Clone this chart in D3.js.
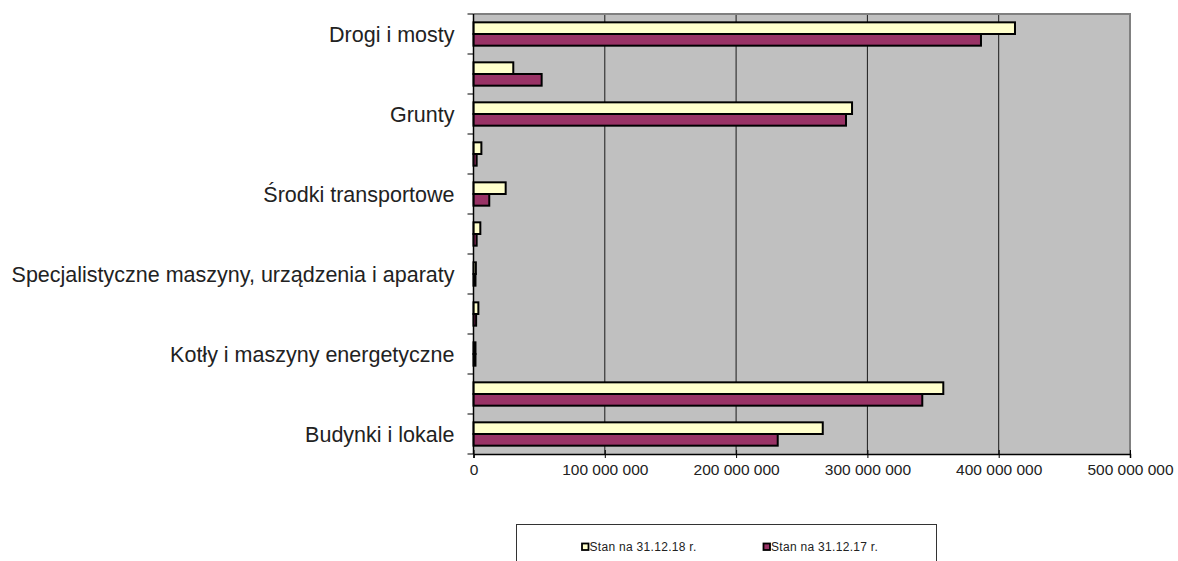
<!DOCTYPE html>
<html>
<head>
<meta charset="utf-8">
<script src="https://cdn.jsdelivr.net/npm/d3@7"></script>
<style>
  body { margin: 0; background: #fff; }
  text { font-family: Arial, "Liberation Sans", sans-serif; }
</style>
</head>
<body>
<div id="chart"></div>
<script>
// categories top to bottom, only every other label is shown in the original
let categories = [
  "Drogi i mosty", "", "Grunty", "", "Środki transportowe", "",
  "Specjalistyczne maszyny, urządzenia i aparaty", "", "Kotły i maszyny energetyczne", "",
  "Budynki i lokale"
];
let seriesNames = ["Stan na 31.12.18 r.", "Stan na 31.12.17 r."];
let stan18 = [412.4e6, 30.3e6, 288.3e6, 6.0e6, 24.5e6, 5.2e6, 1.8e6, 3.7e6, 1.5e6, 357.8e6, 266.0e6];
let stan17 = [386.5e6, 51.9e6, 283.7e6, 2.4e6, 12.0e6, 2.4e6, 1.5e6, 2.0e6, 1.5e6, 341.8e6, 231.7e6];
let xTicks = [0, 100e6, 200e6, 300e6, 400e6, 500e6];
let colors = ["#ffffcc", "#993366"];

let width = 1178, height = 561;
let margin = { top: 14, right: 48, bottom: 107, left: 473.5 };
let plotW = width - margin.left - margin.right,
  plotH = height - margin.top - margin.bottom;

let svg = d3.select("#chart").append("svg")
  .attr("width", width)
  .attr("height", height);

let g = svg.append("g")
  .attr("transform", "translate(" + margin.left + "," + margin.top + ")");

let x = d3.scaleLinear().domain([0, 500e6]).range([0, plotW]);
let y0 = d3.scaleBand().domain(d3.range(categories.length)).range([0, plotH]);
let y1 = d3.scaleBand().domain([0, 1]).range([0, y0.bandwidth()]).paddingOuter(0.714);

// plot background
g.append("rect")
  .attr("width", plotW)
  .attr("height", plotH)
  .attr("fill", "#c0c0c0");

// grid lines
g.selectAll(".grid")
  .data(xTicks.slice(1, -1))
  .enter().append("line")
  .attr("x1", d => x(d)).attr("x2", d => x(d))
  .attr("y1", 0).attr("y2", plotH)
  .attr("stroke", "#1a1a1a")
  .attr("stroke-width", 1);

// top and right border
g.append("path")
  .attr("d", "M0,0H" + plotW + "V" + plotH)
  .attr("fill", "none")
  .attr("stroke", "#808080")
  .attr("stroke-width", 2);

// bars
let rows = categories.map((c, i) => ({ i: i, values: [stan18[i], stan17[i]] }));
let groups = g.selectAll(".cat")
  .data(rows)
  .enter().append("g")
  .attr("transform", d => "translate(0," + y0(d.i) + ")");

groups.selectAll("rect")
  .data(d => d.values.map((v, s) => ({ s: s, v: v })))
  .enter().append("rect")
  .attr("x", 0)
  .attr("y", d => y1(d.s))
  .attr("width", d => x(d.v))
  .attr("height", y1.bandwidth())
  .attr("fill", d => colors[d.s])
  .attr("stroke", "#000")
  .attr("stroke-width", 2);

// x axis
let xAxis = d3.axisBottom(x)
  .tickValues(xTicks)
  .tickSize(4)
  .tickFormat(d => d3.format(",")(d).replace(/,/g, " "));

let gx = g.append("g")
  .attr("transform", "translate(0," + plotH + ")")
  .call(xAxis);
gx.select(".domain").attr("stroke", "#000").attr("stroke-width", 1.5);
gx.selectAll(".tick line").attr("stroke", "#000").attr("y1", -4);
gx.selectAll(".tick text")
  .attr("dy", "0.71em")
  .attr("y", 10)
  .attr("fill", "#222")
  .style("font-size", "15.5px");

// y axis: ticks at category boundaries
g.append("line")
  .attr("x1", 0).attr("x2", 0)
  .attr("y1", 0).attr("y2", plotH)
  .attr("stroke", "#000")
  .attr("stroke-width", 1.5);

g.selectAll(".ytick")
  .data(d3.range(categories.length + 1))
  .enter().append("line")
  .attr("x1", -6).attr("x2", 0)
  .attr("y1", d => d * y0.step()).attr("y2", d => d * y0.step())
  .attr("stroke", "#000");

g.selectAll(".ylabel")
  .data(categories)
  .enter().append("text")
  .attr("x", -19)
  .attr("y", (d, i) => y0(i) + y0.bandwidth() / 2)
  .attr("dy", "0.35em")
  .attr("text-anchor", "end")
  .attr("fill", "#222")
  .style("font-size", "21.5px")
  .text(d => d);

// legend
let legend = svg.append("g");
legend.append("rect")
  .attr("x", 516.5).attr("y", 524.5)
  .attr("width", 420).attr("height", 60)
  .attr("fill", "#fff")
  .attr("stroke", "#333")
  .attr("stroke-width", 1);

let legendX = [582, 763.5];
seriesNames.forEach((name, s) => {
  legend.append("rect")
    .attr("x", legendX[s]).attr("y", 543.5)
    .attr("width", 6.5).attr("height", 6.5)
    .attr("fill", colors[s])
    .attr("stroke", "#000")
    .attr("stroke-width", 1.8);
  legend.append("text")
    .attr("x", legendX[s] + 7.5)
    .attr("y", 547)
    .attr("dy", "0.35em")
    .attr("fill", "#222")
    .style("font-size", "12px")
    .style("letter-spacing", "0.3px")
    .text(name);
});
</script>
</body>
</html>
